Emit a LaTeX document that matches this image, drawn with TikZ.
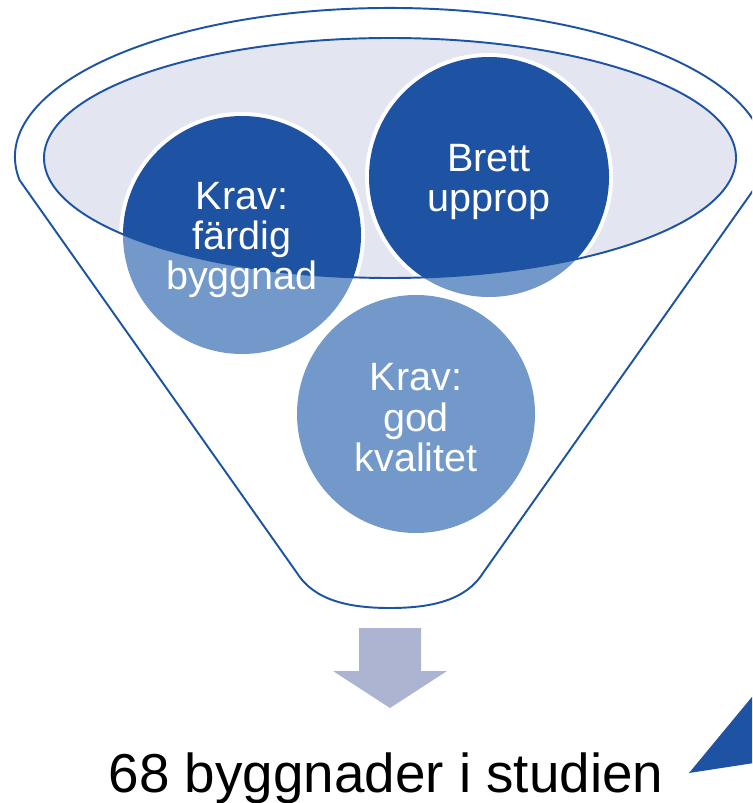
\documentclass[tikz,border=0pt]{standalone}
\usepackage{fontspec}
\setmainfont{Liberation Sans}
\definecolor{darkblue}{HTML}{1E53A4}
\definecolor{lightblue}{HTML}{7399CA}
\definecolor{rimgrey}{HTML}{E3E6F0}
\definecolor{arrowgrey}{HTML}{ADB4D2}
\tikzset{
  funnelline/.style={draw=darkblue,line width=1.1pt},
  circletext/.style={text=white,align=center,font=\fontsize{22.5}{23}\selectfont},
  bottomtext/.style={text=black,anchor=base,font=\fontsize{31.2}{38}\selectfont}
}
\begin{document}
\begin{tikzpicture}[x=0.02cm,y=-0.02cm]
            \useasboundingbox (0,0) rectangle (752,803);
            \clip (0,0) rectangle (752,803);

            \draw[funnelline] (19.5,180) arc[start angle=171.1,end angle=368.9,x radius=375,y radius=149]
                -- (483,573) .. controls (466,600) and (432,608) .. (390,608)
                .. controls (348,608) and (314,600) .. (297,573) -- cycle;

            \fill[rimgrey] (390,158) ellipse[x radius=346,y radius=120];

            \fill[lightblue] (242,235) circle[radius=119];
            \fill[lightblue] (489,177) circle[radius=120];
            \fill[lightblue] (416,414) circle[radius=119];
            \begin{scope}
                \clip (390,158) ellipse[x radius=346,y radius=120];
                \fill[white] (242,235) circle[radius=123];
                \fill[white] (489,177) circle[radius=124];
                \fill[darkblue] (242,235) circle[radius=119];
                \fill[darkblue] (489,177) circle[radius=120];
            \end{scope}
            \draw[funnelline] (390,158) ellipse[x radius=346,y radius=120];

            \node[circletext] (kravbygg) at (242,240) {Krav:\\färdig\\byggnad};
            \node[circletext] (upprop) at (489,182) {Brett\\upprop};
            \node[circletext] (kravkval) at (416,418) {Krav:\\god\\kvalitet};

            \fill[arrowgrey] (359,628) -- (421,628) -- (421,671) -- (447,671) -- (390,708)
                -- (333,671) -- (359,671) -- cycle;

            \node[bottomtext] (studien) at (386,792) {68 byggnader i studien};

            \fill[darkblue] (689,773) -- (780,663) -- (780,759) -- cycle;
        \end{tikzpicture}
\end{document}
